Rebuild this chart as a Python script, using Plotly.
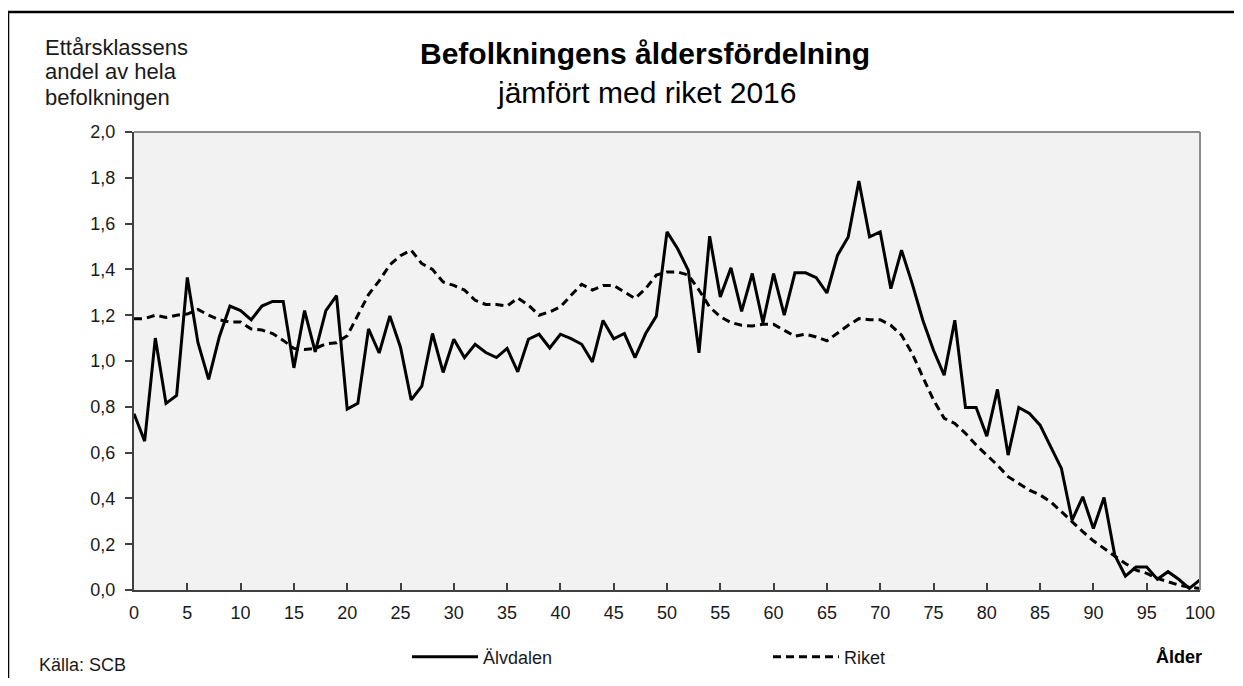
import plotly.graph_objects as go

ages = list(range(0, 101))

alvdalen = [
    0.77, 0.65, 1.10, 0.815, 0.85, 1.365, 1.08, 0.92, 1.105, 1.24,
    1.22, 1.18, 1.24, 1.26, 1.26, 0.97, 1.22, 1.04, 1.22, 1.285,
    0.79, 0.815, 1.14, 1.035, 1.197, 1.06, 0.83, 0.89, 1.12, 0.95,
    1.095, 1.015, 1.073, 1.037, 1.015, 1.055, 0.953, 1.095, 1.117, 1.057,
    1.117, 1.098, 1.073, 0.996, 1.177, 1.097, 1.12, 1.015, 1.12, 1.196,
    1.564, 1.49, 1.396, 1.036, 1.545, 1.28, 1.407, 1.217, 1.382, 1.167,
    1.382, 1.20, 1.385, 1.385, 1.364, 1.297, 1.462, 1.542, 1.786, 1.542,
    1.564, 1.316, 1.484, 1.338, 1.178, 1.047, 0.938, 1.178, 0.797, 0.797,
    0.672, 0.876, 0.589, 0.797, 0.771, 0.72, 0.625, 0.531, 0.305, 0.407,
    0.269, 0.404, 0.153, 0.061, 0.10, 0.10, 0.047, 0.08, 0.047, 0.007,
    0.044,
]

riket = [
    1.185, 1.185, 1.20, 1.19, 1.20, 1.205, 1.225, 1.20, 1.18, 1.17,
    1.17, 1.14, 1.135, 1.12, 1.09, 1.055, 1.05, 1.055, 1.075, 1.08,
    1.11, 1.20, 1.29, 1.35, 1.42, 1.46, 1.484, 1.425, 1.40, 1.345,
    1.33, 1.31, 1.265, 1.247, 1.247, 1.24, 1.275, 1.244, 1.20, 1.215,
    1.236, 1.287, 1.335, 1.31, 1.33, 1.33, 1.30, 1.273, 1.316, 1.375,
    1.389, 1.389, 1.375, 1.31, 1.236, 1.193, 1.168, 1.156, 1.153, 1.16,
    1.16, 1.135, 1.108, 1.117, 1.105, 1.088, 1.123, 1.156, 1.185, 1.18,
    1.18, 1.156, 1.113, 1.033, 0.93, 0.83, 0.75, 0.727, 0.684, 0.633,
    0.589, 0.545, 0.495, 0.465, 0.436, 0.415, 0.385, 0.342, 0.298, 0.255,
    0.215, 0.18, 0.148, 0.116, 0.087, 0.073, 0.051, 0.036, 0.022, 0.012,
    0.007,
]

x_ticks = list(range(0, 101, 5))
y_ticks = [0.0, 0.2, 0.4, 0.6, 0.8, 1.0, 1.2, 1.4, 1.6, 1.8, 2.0]
y_label_lines = ["Ettårsklassens", "andel av hela", "befolkningen"]

FONT = "Liberation Sans, Arial, sans-serif"

# page has an 8px body margin on every side; keep the figure inside the window
OFF = 8
PL, PR, PT, PB = 134, 1200, 132, 590   # plot area in page pixels
PW, PH = PR - PL, PB - PT
FIG_W, FIG_H = 1243 - 2 * OFF, 686 - 2 * OFF


def px(xp):
    return (xp - PL) / PW


def py(yp):
    return (PB - yp) / PH


fig = go.Figure()
fig.add_trace(go.Scatter(
    x=ages, y=riket, mode="lines", name="Riket",
    line=dict(color="black", width=3, dash="8px,5px"),
))
fig.add_trace(go.Scatter(
    x=ages, y=alvdalen, mode="lines", name="Älvdalen",
    line=dict(color="black", width=3),
))

annotations = [
    dict(text="<b>Befolkningens åldersfördelning</b>", xref="paper", yref="paper",
         x=px(645), y=py(54), xanchor="center", yanchor="middle",
         showarrow=False, font=dict(size=30, family=FONT, color="black")),
    dict(text="jämfört med riket 2016", xref="paper", yref="paper",
         x=px(646), y=py(93), xanchor="center", yanchor="middle",
         showarrow=False, font=dict(size=30, family=FONT, color="black")),
    dict(text="<b>Ålder</b>", xref="paper", yref="paper",
         x=px(1179), y=py(657), xanchor="center", yanchor="middle",
         showarrow=False, font=dict(size=18, family=FONT, color="black")),
    dict(text="Källa: SCB", xref="paper", yref="paper",
         x=px(37), y=py(665), xanchor="left", yanchor="middle",
         showarrow=False, font=dict(size=18, family=FONT, color="#1a1a1a")),
]
for i, line in enumerate(y_label_lines):
    annotations.append(dict(
        text=line, xref="paper", yref="paper",
        x=px(43), y=py(47 + 25 * i), xanchor="left", yanchor="middle",
        showarrow=False, font=dict(size=22, family=FONT, color="#1a1a1a"),
    ))

fig.update_layout(
    width=FIG_W, height=FIG_H,
    margin=dict(l=PL - OFF, r=FIG_W - (PR - OFF), t=PT - OFF, b=FIG_H - (PB - OFF),
                autoexpand=False),
    paper_bgcolor="white",
    plot_bgcolor="#f2f2f2",
    separators=", ",
    font=dict(family=FONT, size=18, color="#1a1a1a"),
    showlegend=True,
    legend=dict(
        orientation="h", traceorder="reversed",
        x=px(407), xanchor="left", y=py(657), yanchor="middle",
        itemwidth=66, entrywidth=280, entrywidthmode="pixels",
        font=dict(size=18, family=FONT, color="#1a1a1a"),
        bgcolor="rgba(0,0,0,0)",
    ),
    xaxis=dict(
        range=[0, 100], tickvals=x_ticks, ticktext=[str(v) for v in x_ticks],
        showgrid=False, zeroline=False,
        showline=True, linecolor="#404040", linewidth=2,
        ticks="inside", ticklen=7, tickwidth=1.5, tickcolor="#404040",
        ticklabelstandoff=5,
        tickfont=dict(size=18, family=FONT, color="#1a1a1a"),
    ),
    yaxis=dict(
        range=[0, 2], tickvals=y_ticks, tickformat=".1f",
        showgrid=False, zeroline=False,
        showline=True, linecolor="#404040", linewidth=2,
        ticks="outside", ticklen=7, tickwidth=1.5, tickcolor="#404040",
        ticklabelstandoff=6,
        tickfont=dict(size=18, family=FONT, color="#1a1a1a"),
    ),
    shapes=[
        # outer frame (top and left edges; the others lie outside the picture)
        dict(type="line", xref="paper", yref="paper",
             x0=px(7), x1=px(1234), y0=py(12), y1=py(12),
             line=dict(color="black", width=2.5), layer="below"),
        dict(type="line", xref="paper", yref="paper",
             x0=px(8), x1=px(8), y0=py(11), y1=py(678),
             line=dict(color="black", width=2.5), layer="below"),
        # plot area top/right border
        dict(type="line", xref="paper", yref="paper", x0=0, x1=1, y0=1, y1=1,
             line=dict(color="#8c8c8c", width=2)),
        dict(type="line", xref="paper", yref="paper", x0=1, x1=1, y0=0, y1=1,
             line=dict(color="#8c8c8c", width=2)),
    ],
    annotations=annotations,
)

fig.write_html("out.html")
